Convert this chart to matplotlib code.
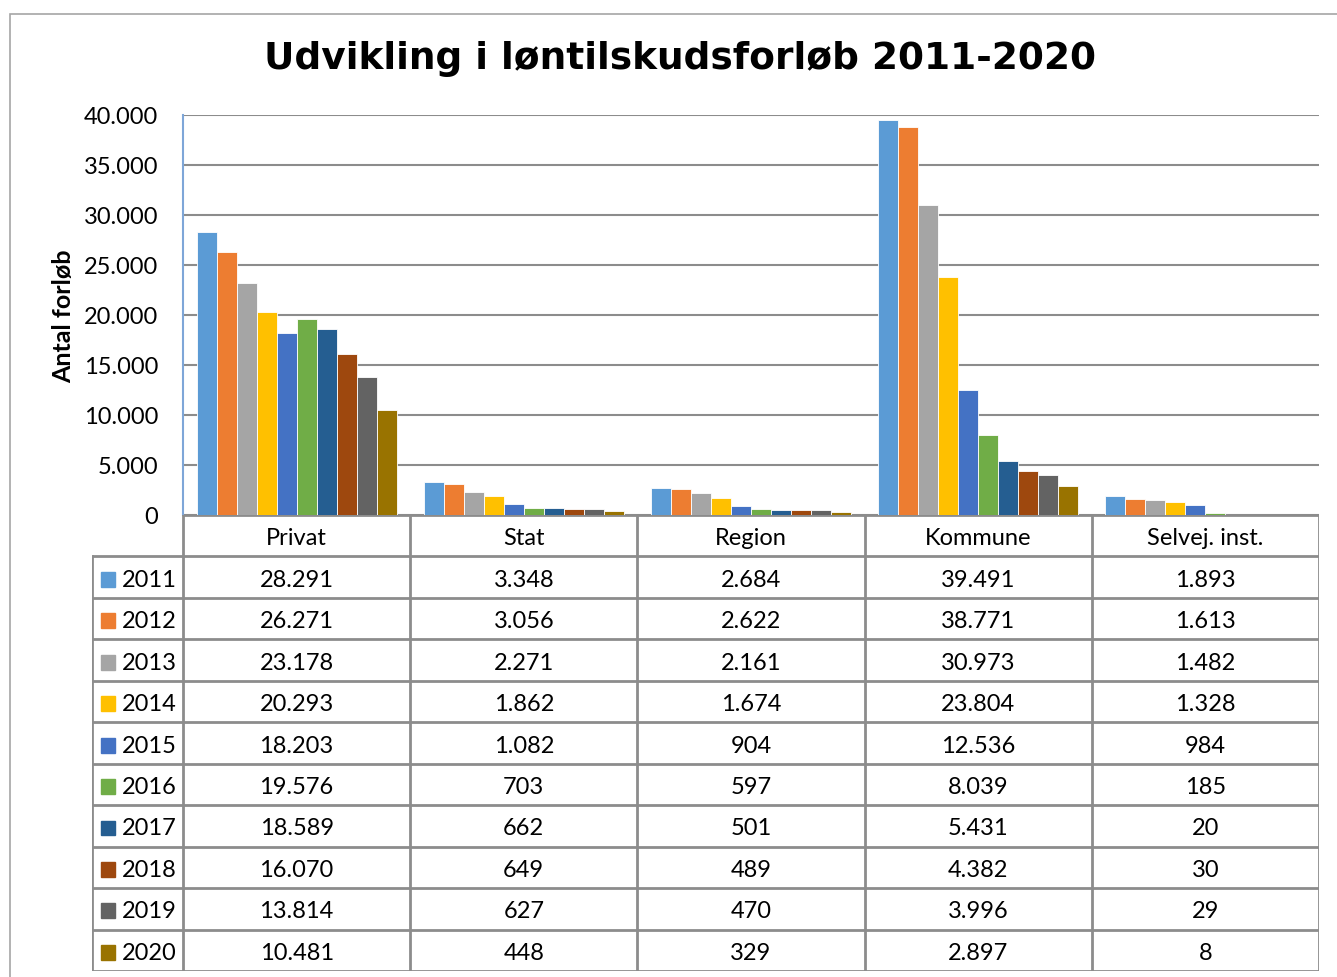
import numpy as np
import matplotlib.pyplot as plt
from matplotlib.patches import Rectangle

categories = ["Privat", "Stat", "Region", "Kommune", "Selvej. inst."]
years = ["2011", "2012", "2013", "2014", "2015", "2016", "2017", "2018", "2019", "2020"]
v2011 = [28291, 3348, 2684, 39491, 1893]
v2012 = [26271, 3056, 2622, 38771, 1613]
v2013 = [23178, 2271, 2161, 30973, 1482]
v2014 = [20293, 1862, 1674, 23804, 1328]
v2015 = [18203, 1082, 904, 12536, 984]
v2016 = [19576, 703, 597, 8039, 185]
v2017 = [18589, 662, 501, 5431, 20]
v2018 = [16070, 649, 489, 4382, 30]
v2019 = [13814, 627, 470, 3996, 29]
v2020 = [10481, 448, 329, 2897, 8]
series = [v2011, v2012, v2013, v2014, v2015, v2016, v2017, v2018, v2019, v2020]
colors = ["#5B9BD5", "#ED7D31", "#A5A5A5", "#FFC000", "#4472C4",
          "#70AD47", "#255E91", "#9E480E", "#636363", "#997300"]

def fmt(v):
    return f"{v:,}".replace(",", ".")

plt.rcParams['font.family'] = ['Lato', 'DejaVu Sans']
W, H = 1337, 978
fs = 17
fig = plt.figure(figsize=(W / 100, H / 100), dpi=100)

# outer frame
fig.patches.append(Rectangle((10 / W, -0.01), 1.1, 1 - 15 / H + 0.01, transform=fig.transFigure,
                             fill=False, edgecolor="#A6A6A6", lw=1.2))

ax = fig.add_axes([183 / W, (H - 516) / H, (1319 - 183) / W, 400 / H])
x = np.arange(len(categories))
bw = 0.088
for i, (vals, c) in enumerate(zip(series, colors)):
    ax.bar(x + (i - 4.5) * bw, vals, width=bw, color=c, edgecolor="white", linewidth=0.6, zorder=3)
ax.set_xlim(-0.5, 4.5)
ax.set_ylim(0, 40000)
ax.set_yticks(range(0, 40001, 5000))
ax.set_yticklabels([fmt(t) for t in range(0, 40001, 5000)], fontsize=fs)
ax.set_xticks([])
ax.grid(axis="y", color="#8C8C8C", lw=1.5, zorder=0)
ax.tick_params(axis="y", length=0, pad=18)
for s in ["top", "right", "bottom"]:
    ax.spines[s].set_visible(False)
ax.spines["left"].set_color("#7EA6D8")
ax.spines["left"].set_linewidth(1.5)
ax.set_ylabel("Antal forløb", fontsize=18, fontweight="bold", labelpad=6)

fig.text(680 / W, 1 - 59 / H, "Udvikling i løntilskudsforløb 2011-2020", ha="center", va="center",
         fontsize=27, fontweight="bold", family="DejaVu Sans")

# data table
lab_w = 91 / 227.2
tax = fig.add_axes([92 / W, 6 / H, (1319 - 92) / W, (972 - 516) / H])
tax.set_xlim(-0.5 - lab_w, 4.5)
tax.set_ylim(11, 0)
tax.axis("off")
lc = "#8C8C8C"
lw = 2
nrows = len(years)
# horizontal lines
tax.plot([-0.5, 4.5], [0, 0], color=lc, lw=lw, solid_capstyle="butt")
for r in range(1, nrows + 2):
    tax.plot([-0.5 - lab_w, 4.5], [r, r], color=lc, lw=lw, solid_capstyle="butt")
# vertical lines
tax.plot([-0.5 - lab_w] * 2, [1, nrows + 1], color=lc, lw=lw)
for cidx in range(len(categories) + 1):
    tax.plot([cidx - 0.5] * 2, [0, nrows + 1], color=lc, lw=lw)
for j, cat in enumerate(categories):
    tax.text(j, 0.55, cat, ha="center", va="center", fontsize=fs)
for i, (yr, vals, c) in enumerate(zip(years, series, colors)):
    r = i + 1.55
    tax.add_patch(Rectangle((-0.5 - lab_w + 0.04, r - 0.18), 0.062, 0.36, color=c))
    tax.text(-0.5 - lab_w + 0.13, r, yr, ha="left", va="center", fontsize=fs)
    for j, v in enumerate(vals):
        tax.text(j, r, fmt(v), ha="center", va="center", fontsize=fs)

fig.savefig("out.png", dpi=100)
